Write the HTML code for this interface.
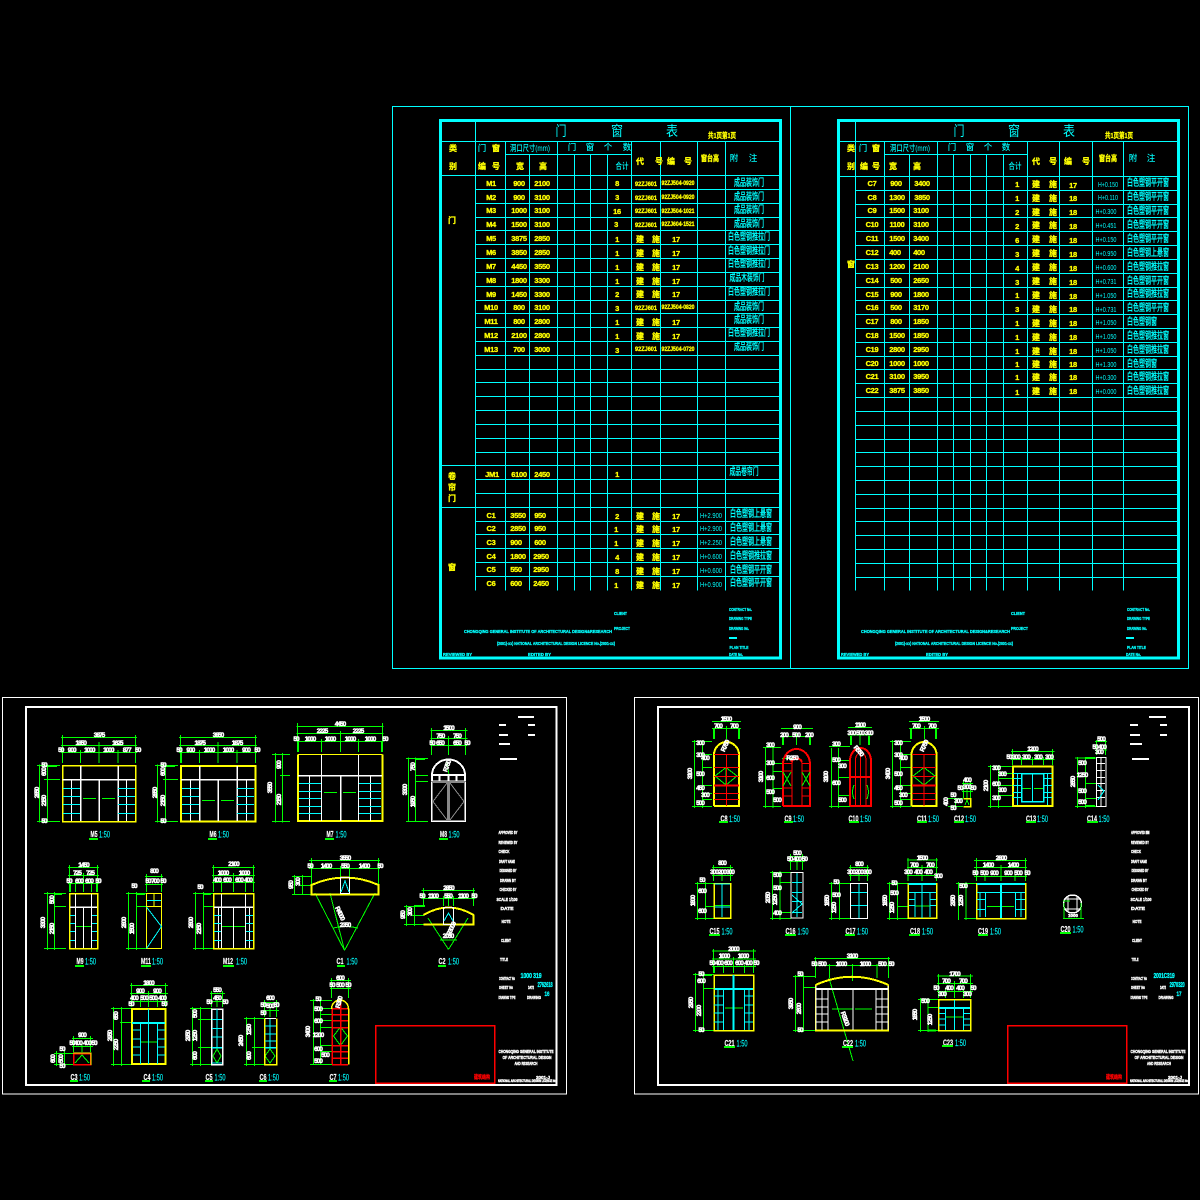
<!DOCTYPE html>
<html lang="zh">
<head>
<meta charset="utf-8">
<title>门窗表</title>
<style>
html,body{margin:0;padding:0;background:#000;}
svg{display:block;}
path,rect,circle{fill:none;stroke-width:1;}
.g{stroke:#0f0}.y{stroke:#ff0}.c{stroke:#0ff}.w{stroke:#fff}.r{stroke:#f00}.e{stroke:#888}
.s2{stroke-width:2}.s3{stroke-width:3}.s15{stroke-width:1.5}
text{text-anchor:middle;}
.ta{fill:#ff0;stroke:#ff0;stroke-width:.3;letter-spacing:-.3px;font:bold 7.5px "Liberation Sans",sans-serif;}
.tb{fill:#ff0;stroke:#ff0;stroke-width:.3;font:bold 6px "Liberation Sans",sans-serif;}
.th{fill:#ff0;stroke:#ff0;stroke-width:.3;font:700 8px "Liberation Sans","Noto Sans CJK SC",sans-serif;}
.tk{fill:#0ff;font:500 8.5px "Liberation Sans","Noto Sans CJK SC",sans-serif;}
.tn{fill:#0ff;stroke:#0ff;stroke-width:.2;font:500 10px "Liberation Sans","Noto Sans CJK SC",sans-serif;}
.tt{fill:#0ff;font:400 14px "Liberation Sans","Noto Sans CJK SC",sans-serif;}
.tc{fill:#0ff;font:400 7.5px "Liberation Sans",sans-serif;}
.tf{fill:#0ff;stroke:#0ff;stroke-width:.3;font:bold 4.2px "Liberation Sans",sans-serif;}
.tw{fill:#fff;stroke:#fff;stroke-width:.4;font:bold 4.5px "Liberation Sans",sans-serif;}
.td{fill:#fff;stroke:#fff;stroke-width:.5;letter-spacing:-1px;font:bold 6.5px "Liberation Sans",sans-serif;}
.tl{fill:#fff;stroke:#fff;stroke-width:.2;font:bold 8.5px "Liberation Sans",sans-serif;}
.ts{fill:#0ff;stroke:#0ff;stroke-width:.15;font:400 9.5px "Liberation Sans",sans-serif;}
.tr{fill:#f00;stroke:#f00;stroke-width:.3;font:700 5.5px "Liberation Sans","Noto Sans CJK SC",sans-serif;}
</style>
</head>
<body>
<svg xmlns="http://www.w3.org/2000/svg" width="1200" height="1200" viewBox="0 0 1200 1200" shape-rendering="crispEdges">
<rect x="0" y="0" width="1200" height="1200" style="fill:#000;stroke:none"/>

<!-- outer frame top -->
<path class="c" d="M392.5 106.5H1188.5V668.5H392.5ZM790.5 106.5V668.5"/>

<!-- LEFT TABLE -->
<rect class="c s3" x="440.5" y="120.5" width="340" height="537.5"/>
<path class="c" d="M475.5 120V590.7M505.5 141V590.7M529.5 154V590.7M557.5 141V590.7M574.5 154V590.7M590.5 154V590.7M607.5 154V590.7M631.5 141V590.7M660.5 141V590.7M697.5 141V590.7M725.5 141V590.7
M440 141.5H780M505 154.5H631M440 175.5H780M475 189.5H780M475 203.5H780M475 217.5H780M475 230.5H780M475 244.5H780M475 258.5H780M475 272.5H780M475 286.5H780M475 300.5H780M475 313.5H780M475 327.5H780M475 341.5H780M475 355.5H780M475 369.5H780M475 382.5H780M475 396.5H780M475 410.5H780M475 424.5H780M475 438.5H780M475 452.5H780M440 465.5H780M475 479.5H780M475 493.5H780M440 507.5H780M475 521.5H780M475 534.5H780M475 548.5H780M475 562.5H780M475 576.5H780"/>

<text class="tt" x="561" y="136" textLength="11" lengthAdjust="spacingAndGlyphs">门</text><text class="tt" x="617" y="136" textLength="12" lengthAdjust="spacingAndGlyphs">窗</text><text class="tt" x="672" y="136" textLength="12" lengthAdjust="spacingAndGlyphs">表</text>
<text class="th" style="font-size:7.5px" x="722" y="138" textLength="28" lengthAdjust="spacingAndGlyphs">共1页第1页</text>
<text class="th" x="453" y="151">类</text><text class="th" x="453" y="169">别</text>
<text class="tk" x="482" y="151">门</text><text class="th" x="496" y="151">窗</text><text class="th" x="482" y="169">编</text><text class="th" x="496" y="169">号</text>
<text class="tk" x="530" y="151" textLength="40" lengthAdjust="spacingAndGlyphs">洞口尺寸(mm)</text>
<text class="tk" x="572" y="150">门</text><text class="tk" x="590" y="150">窗</text><text class="tk" x="608" y="150">个</text><text class="tk" x="627" y="150">数</text>
<text class="th" x="520" y="169">宽</text><text class="th" x="543" y="169">高</text>
<text class="tk" x="622" y="169" textLength="13" lengthAdjust="spacingAndGlyphs">合计</text>
<text class="th" x="640" y="164">代</text><text class="th" x="659" y="164">号</text><text class="th" x="671" y="164">编</text><text class="th" x="688" y="164">号</text>
<text class="th" x="710" y="161" textLength="18" lengthAdjust="spacingAndGlyphs">窗台高</text>
<text class="tk" x="734" y="161">附</text><text class="tk" x="753" y="161">注</text>
<text class="th" x="452" y="223">门</text>
<text class="th" x="452" y="479">卷</text><text class="th" x="452" y="490">帘</text><text class="th" x="452" y="501">门</text>
<text class="th" x="452" y="570">窗</text>

<text class="ta" x="491" y="186">M1</text><text class="ta" x="519" y="186">900</text><text class="ta" x="542" y="186">2100</text><text class="ta" x="617" y="186">8</text><text class="tb" x="646" y="186" textLength="22" lengthAdjust="spacingAndGlyphs">92ZJ601</text><text class="tb" x="678" y="185" textLength="33" lengthAdjust="spacingAndGlyphs">92ZJ504-0920</text><text class="tn" x="749" y="186" textLength="30" lengthAdjust="spacingAndGlyphs">成品装饰门</text>
<text class="ta" x="491" y="200">M2</text><text class="ta" x="519" y="200">900</text><text class="ta" x="542" y="200">3100</text><text class="ta" x="617" y="200">3</text><text class="tb" x="646" y="200" textLength="22" lengthAdjust="spacingAndGlyphs">92ZJ601</text><text class="tb" x="678" y="199" textLength="33" lengthAdjust="spacingAndGlyphs">92ZJ504-0920</text><text class="tn" x="749" y="200" textLength="30" lengthAdjust="spacingAndGlyphs">成品装饰门</text>
<text class="ta" x="491" y="213">M3</text><text class="ta" x="519" y="213">1000</text><text class="ta" x="542" y="213">3100</text><text class="ta" x="617" y="214">16</text><text class="tb" x="646" y="213" textLength="22" lengthAdjust="spacingAndGlyphs">92ZJ601</text><text class="tb" x="678" y="213" textLength="33" lengthAdjust="spacingAndGlyphs">92ZJ504-1021</text><text class="tn" x="749" y="213" textLength="30" lengthAdjust="spacingAndGlyphs">成品装饰门</text>
<text class="ta" x="491" y="227">M4</text><text class="ta" x="519" y="227">1500</text><text class="ta" x="542" y="227">3100</text><text class="ta" x="616" y="227">3</text><text class="tb" x="646" y="227" textLength="22" lengthAdjust="spacingAndGlyphs">92ZJ601</text><text class="tb" x="678" y="226" textLength="33" lengthAdjust="spacingAndGlyphs">92ZJ604-1521</text><text class="tn" x="749" y="227" textLength="30" lengthAdjust="spacingAndGlyphs">成品装饰门</text>
<text class="ta" x="491" y="241">M5</text><text class="ta" x="519" y="241">3875</text><text class="ta" x="542" y="241">2850</text><text class="ta" x="617" y="242">1</text><text class="th" x="640" y="242">建</text><text class="th" x="656" y="242">施</text><text class="ta" x="676" y="242">17</text><text class="tn" x="749" y="240" textLength="42" lengthAdjust="spacingAndGlyphs">白色塑钢推拉门</text>
<text class="ta" x="491" y="255">M6</text><text class="ta" x="519" y="255">3850</text><text class="ta" x="542" y="255">2850</text><text class="ta" x="617" y="256">1</text><text class="th" x="640" y="256">建</text><text class="th" x="656" y="256">施</text><text class="ta" x="676" y="256">17</text><text class="tn" x="749" y="254" textLength="42" lengthAdjust="spacingAndGlyphs">白色塑钢推拉门</text>
<text class="ta" x="491" y="269">M7</text><text class="ta" x="519" y="269">4450</text><text class="ta" x="542" y="269">3550</text><text class="ta" x="617" y="270">1</text><text class="th" x="640" y="270">建</text><text class="th" x="656" y="270">施</text><text class="ta" x="676" y="270">17</text><text class="tn" x="749" y="267" textLength="42" lengthAdjust="spacingAndGlyphs">白色塑钢推拉门</text>
<text class="ta" x="491" y="283">M8</text><text class="ta" x="519" y="283">1800</text><text class="ta" x="542" y="283">3300</text><text class="ta" x="617" y="284">1</text><text class="th" x="640" y="284">建</text><text class="th" x="656" y="284">施</text><text class="ta" x="676" y="284">17</text><text class="tn" x="747" y="281" textLength="35" lengthAdjust="spacingAndGlyphs">成品木装饰门</text>
<text class="ta" x="491" y="297">M9</text><text class="ta" x="519" y="297">1450</text><text class="ta" x="542" y="297">3300</text><text class="ta" x="617" y="297">2</text><text class="th" x="640" y="297">建</text><text class="th" x="656" y="297">施</text><text class="ta" x="676" y="297">17</text><text class="tn" x="749" y="295" textLength="42" lengthAdjust="spacingAndGlyphs">白色塑钢推拉门</text>
<text class="ta" x="491" y="310">M10</text><text class="ta" x="519" y="310">800</text><text class="ta" x="542" y="310">3100</text><text class="ta" x="617" y="311">3</text><text class="tb" x="646" y="310" textLength="22" lengthAdjust="spacingAndGlyphs">92ZJ601</text><text class="tb" x="678" y="309" textLength="33" lengthAdjust="spacingAndGlyphs">92ZJ504-0820</text><text class="tn" x="749" y="310" textLength="30" lengthAdjust="spacingAndGlyphs">成品装饰门</text>
<text class="ta" x="491" y="324">M11</text><text class="ta" x="519" y="324">800</text><text class="ta" x="542" y="324">2800</text><text class="ta" x="617" y="325">1</text><text class="th" x="640" y="325">建</text><text class="th" x="656" y="325">施</text><text class="ta" x="676" y="325">17</text><text class="tn" x="749" y="323" textLength="30" lengthAdjust="spacingAndGlyphs">成品装饰门</text>
<text class="ta" x="491" y="338">M12</text><text class="ta" x="519" y="338">2100</text><text class="ta" x="542" y="338">2800</text><text class="ta" x="617" y="339">1</text><text class="th" x="640" y="339">建</text><text class="th" x="656" y="339">施</text><text class="ta" x="676" y="339">17</text><text class="tn" x="749" y="336" textLength="42" lengthAdjust="spacingAndGlyphs">白色塑钢推拉门</text>
<text class="ta" x="491" y="352">M13</text><text class="ta" x="519" y="352">700</text><text class="ta" x="542" y="352">3000</text><text class="ta" x="617" y="353">3</text><text class="tb" x="646" y="351" textLength="22" lengthAdjust="spacingAndGlyphs">92ZJ601</text><text class="tb" x="678" y="351" textLength="33" lengthAdjust="spacingAndGlyphs">92ZJ504-0720</text><text class="tn" x="749" y="350" textLength="30" lengthAdjust="spacingAndGlyphs">成品装饰门</text>

<text class="ta" x="492" y="477">JM1</text><text class="ta" x="519" y="477">6100</text><text class="ta" x="542" y="477">2450</text><text class="ta" x="617" y="477">1</text><text class="tn" x="744" y="475" textLength="29" lengthAdjust="spacingAndGlyphs">成品卷帘门</text>

<text class="ta" x="491" y="518">C1</text><text class="ta" x="518" y="518">3550</text><text class="ta" x="540" y="518">950</text><text class="ta" x="617" y="519">2</text><text class="th" x="640" y="519">建</text><text class="th" x="656" y="519">施</text><text class="ta" x="676" y="519">17</text><text class="tc" x="711" y="518" textLength="22" lengthAdjust="spacingAndGlyphs">H+2.900</text><text class="tn" x="751" y="517" textLength="42" lengthAdjust="spacingAndGlyphs">白色塑钢上悬窗</text>
<text class="ta" x="491" y="531">C2</text><text class="ta" x="518" y="531">2850</text><text class="ta" x="540" y="531">950</text><text class="ta" x="616" y="532">1</text><text class="th" x="640" y="532">建</text><text class="th" x="656" y="532">施</text><text class="ta" x="676" y="532">17</text><text class="tc" x="711" y="531" textLength="22" lengthAdjust="spacingAndGlyphs">H+2.900</text><text class="tn" x="751" y="531" textLength="42" lengthAdjust="spacingAndGlyphs">白色塑钢上悬窗</text>
<text class="ta" x="491" y="545">C3</text><text class="ta" x="516" y="545">900</text><text class="ta" x="540" y="545">600</text><text class="ta" x="616" y="546">1</text><text class="th" x="640" y="546">建</text><text class="th" x="656" y="546">施</text><text class="ta" x="676" y="546">17</text><text class="tc" x="711" y="545" textLength="22" lengthAdjust="spacingAndGlyphs">H+2.250</text><text class="tn" x="751" y="545" textLength="42" lengthAdjust="spacingAndGlyphs">白色塑钢上悬窗</text>
<text class="ta" x="491" y="559">C4</text><text class="ta" x="518" y="559">1800</text><text class="ta" x="541" y="559">2950</text><text class="ta" x="617" y="560">4</text><text class="th" x="640" y="560">建</text><text class="th" x="656" y="560">施</text><text class="ta" x="676" y="560">17</text><text class="tc" x="711" y="559" textLength="22" lengthAdjust="spacingAndGlyphs">H+0.600</text><text class="tn" x="751" y="559" textLength="42" lengthAdjust="spacingAndGlyphs">白色塑钢推拉窗</text>
<text class="ta" x="491" y="572">C5</text><text class="ta" x="516" y="572">550</text><text class="ta" x="541" y="572">2950</text><text class="ta" x="617" y="574">8</text><text class="th" x="640" y="574">建</text><text class="th" x="656" y="574">施</text><text class="ta" x="676" y="574">17</text><text class="tc" x="711" y="573" textLength="22" lengthAdjust="spacingAndGlyphs">H+0.600</text><text class="tn" x="751" y="573" textLength="42" lengthAdjust="spacingAndGlyphs">白色塑钢平开窗</text>
<text class="ta" x="491" y="586">C6</text><text class="ta" x="516" y="586">600</text><text class="ta" x="541" y="586">2450</text><text class="ta" x="616" y="588">1</text><text class="th" x="640" y="588">建</text><text class="th" x="656" y="588">施</text><text class="ta" x="676" y="588">17</text><text class="tc" x="711" y="587" textLength="22" lengthAdjust="spacingAndGlyphs">H+0.900</text><text class="tn" x="751" y="586" textLength="42" lengthAdjust="spacingAndGlyphs">白色塑钢平开窗</text>

<text class="tf" x="538" y="633" textLength="148" lengthAdjust="spacingAndGlyphs">CHONGQING GENERAL INSTITUTE OF ARCHITECTURAL DESIGN&amp;RESEARCH</text>
<text class="tf" x="556" y="645" textLength="118" lengthAdjust="spacingAndGlyphs">(2001)-xx) NATIONAL ARCHITECTURAL DESIGN LICENCE No.(2001-xx)</text>
<text class="tf" x="457.5" y="656" textLength="29" lengthAdjust="spacingAndGlyphs">REVIEWED BY</text>
<text class="tf" x="539.5" y="656" textLength="23" lengthAdjust="spacingAndGlyphs">EDITED BY</text>
<text class="tf" x="620.5" y="615" textLength="13" lengthAdjust="spacingAndGlyphs">CLIENT</text>
<text class="tf" x="622" y="630" textLength="16" lengthAdjust="spacingAndGlyphs">PROJECT</text>
<text class="tf" x="740.5" y="611" textLength="23" lengthAdjust="spacingAndGlyphs">CONTRACT No.</text>
<text class="tf" x="740.5" y="620" textLength="23" lengthAdjust="spacingAndGlyphs">DRAWING TYPE</text>
<text class="tf" x="739" y="630" textLength="20" lengthAdjust="spacingAndGlyphs">DRAWING No.</text>
<path class="c s2" d="M729 638H737"/>
<text class="tf" x="739" y="649" textLength="19" lengthAdjust="spacingAndGlyphs">PLAN TITLE</text>
<text class="tf" x="736" y="656" textLength="14" lengthAdjust="spacingAndGlyphs">DATE No.</text>

<!-- RIGHT TABLE -->
<rect class="c s3" x="838.5" y="120.5" width="340" height="537.5"/>
<path class="c" d="M855.5 120V590.7M884.5 141V590.7M909.5 154V590.7M937.5 141V590.7M953.5 154V590.7M970.5 154V590.7M986.5 154V590.7M1003.5 154V590.7M1027.5 141V590.7M1059.5 141V590.7M1092.5 141V590.7M1123.5 141V590.7
M838 141.5H1178M884 154.5H1027M838 176.5H1178M855 190.5H1178M855 204.5H1178M855 217.5H1178M855 231.5H1178M855 245.5H1178M855 259.5H1178M855 273.5H1178M855 287.5H1178M855 300.5H1178M855 314.5H1178M855 328.5H1178M855 342.5H1178M855 356.5H1178M855 369.5H1178M855 383.5H1178M855 397.5H1178M855 411.5H1178M855 425.5H1178M855 439.5H1178M855 452.5H1178M855 466.5H1178M855 480.5H1178M855 494.5H1178M855 508.5H1178M855 521.5H1178M855 535.5H1178M855 549.5H1178M855 563.5H1178M855 577.5H1178"/>

<text class="tt" x="959" y="136" textLength="11" lengthAdjust="spacingAndGlyphs">门</text><text class="tt" x="1014" y="136" textLength="12" lengthAdjust="spacingAndGlyphs">窗</text><text class="tt" x="1069" y="136" textLength="12" lengthAdjust="spacingAndGlyphs">表</text>
<text class="th" style="font-size:7.5px" x="1119" y="138" textLength="28" lengthAdjust="spacingAndGlyphs">共1页第1页</text>
<text class="th" x="851" y="151">类</text><text class="th" x="851" y="169">别</text>
<text class="tk" x="863" y="151">门</text><text class="th" x="876" y="151">窗</text><text class="th" x="864" y="169">编</text><text class="th" x="876" y="169">号</text>
<text class="tk" x="910" y="151" textLength="40" lengthAdjust="spacingAndGlyphs">洞口尺寸(mm)</text>
<text class="tk" x="952" y="150">门</text><text class="tk" x="970" y="150">窗</text><text class="tk" x="988" y="150">个</text><text class="tk" x="1006" y="150">数</text>
<text class="th" x="893" y="169">宽</text><text class="th" x="917" y="169">高</text>
<text class="tk" x="1015" y="169" textLength="13" lengthAdjust="spacingAndGlyphs">合计</text>
<text class="th" x="1036" y="164">代</text><text class="th" x="1053" y="164">号</text><text class="th" x="1068" y="164">编</text><text class="th" x="1086" y="164">号</text>
<text class="th" x="1108" y="161" textLength="18" lengthAdjust="spacingAndGlyphs">窗台高</text>
<text class="tk" x="1133" y="161">附</text><text class="tk" x="1151" y="161">注</text>
<text class="th" x="851" y="267">窗</text>

<text class="ta" x="872" y="186">C7</text><text class="ta" x="896" y="186">900</text><text class="ta" x="922" y="186">3400</text><text class="ta" x="1017" y="187">1</text><text class="th" x="1036" y="187">建</text><text class="th" x="1053" y="187">施</text><text class="ta" x="1073" y="188">17</text><text class="tc" x="1108" y="187" textLength="20" lengthAdjust="spacingAndGlyphs">H+0.150</text><text class="tn" x="1148" y="186" textLength="42" lengthAdjust="spacingAndGlyphs">白色塑钢平开窗</text>
<text class="ta" x="872" y="200">C8</text><text class="ta" x="897" y="200">1300</text><text class="ta" x="922" y="200">3850</text><text class="ta" x="1017" y="201">1</text><text class="th" x="1036" y="201">建</text><text class="th" x="1053" y="201">施</text><text class="ta" x="1073" y="201">18</text><text class="tc" x="1108" y="200" textLength="20" lengthAdjust="spacingAndGlyphs">H+0.110</text><text class="tn" x="1148" y="200" textLength="42" lengthAdjust="spacingAndGlyphs">白色塑钢平开窗</text>
<text class="ta" x="872" y="213">C9</text><text class="ta" x="897" y="213">1500</text><text class="ta" x="921" y="213">3100</text><text class="ta" x="1017" y="215">2</text><text class="th" x="1036" y="215">建</text><text class="th" x="1053" y="215">施</text><text class="ta" x="1073" y="215">18</text><text class="tc" x="1106" y="214" textLength="21" lengthAdjust="spacingAndGlyphs">H+0.300</text><text class="tn" x="1148" y="214" textLength="42" lengthAdjust="spacingAndGlyphs">白色塑钢平开窗</text>
<text class="ta" x="872" y="227">C10</text><text class="ta" x="897" y="227">1100</text><text class="ta" x="921" y="227">3100</text><text class="ta" x="1017" y="229">2</text><text class="th" x="1036" y="228">建</text><text class="th" x="1053" y="228">施</text><text class="ta" x="1073" y="229">18</text><text class="tc" x="1106" y="228" textLength="21" lengthAdjust="spacingAndGlyphs">H+0.451</text><text class="tn" x="1148" y="228" textLength="42" lengthAdjust="spacingAndGlyphs">白色塑钢平开窗</text>
<text class="ta" x="872" y="241">C11</text><text class="ta" x="897" y="241">1500</text><text class="ta" x="921" y="241">3400</text><text class="ta" x="1017" y="243">6</text><text class="th" x="1036" y="242">建</text><text class="th" x="1053" y="242">施</text><text class="ta" x="1073" y="243">18</text><text class="tc" x="1106" y="242" textLength="21" lengthAdjust="spacingAndGlyphs">H+0.150</text><text class="tn" x="1148" y="242" textLength="42" lengthAdjust="spacingAndGlyphs">白色塑钢平开窗</text>
<text class="ta" x="872" y="255">C12</text><text class="ta" x="895" y="255">400</text><text class="ta" x="919" y="255">400</text><text class="ta" x="1017" y="257">3</text><text class="th" x="1036" y="256">建</text><text class="th" x="1053" y="256">施</text><text class="ta" x="1073" y="257">18</text><text class="tc" x="1106" y="256" textLength="21" lengthAdjust="spacingAndGlyphs">H+0.950</text><text class="tn" x="1148" y="256" textLength="42" lengthAdjust="spacingAndGlyphs">白色塑钢上悬窗</text>
<text class="ta" x="872" y="269">C13</text><text class="ta" x="897" y="269">1200</text><text class="ta" x="921" y="269">2100</text><text class="ta" x="1017" y="271">4</text><text class="th" x="1036" y="270">建</text><text class="th" x="1053" y="270">施</text><text class="ta" x="1073" y="271">18</text><text class="tc" x="1106" y="270" textLength="21" lengthAdjust="spacingAndGlyphs">H+0.600</text><text class="tn" x="1148" y="270" textLength="42" lengthAdjust="spacingAndGlyphs">白色塑钢推拉窗</text>
<text class="ta" x="872" y="283">C14</text><text class="ta" x="896" y="283">500</text><text class="ta" x="921" y="283">2650</text><text class="ta" x="1017" y="285">3</text><text class="th" x="1036" y="284">建</text><text class="th" x="1053" y="284">施</text><text class="ta" x="1073" y="285">18</text><text class="tc" x="1106" y="284" textLength="21" lengthAdjust="spacingAndGlyphs">H+0.731</text><text class="tn" x="1148" y="284" textLength="42" lengthAdjust="spacingAndGlyphs">白色塑钢平开窗</text>
<text class="ta" x="872" y="297">C15</text><text class="ta" x="896" y="297">900</text><text class="ta" x="921" y="297">1800</text><text class="ta" x="1017" y="298">1</text><text class="th" x="1036" y="298">建</text><text class="th" x="1053" y="298">施</text><text class="ta" x="1073" y="299">18</text><text class="tc" x="1106" y="298" textLength="21" lengthAdjust="spacingAndGlyphs">H+1.050</text><text class="tn" x="1148" y="297" textLength="42" lengthAdjust="spacingAndGlyphs">白色塑钢推拉窗</text>
<text class="ta" x="872" y="310">C16</text><text class="ta" x="896" y="310">500</text><text class="ta" x="921" y="310">3170</text><text class="ta" x="1017" y="312">3</text><text class="th" x="1036" y="312">建</text><text class="th" x="1053" y="312">施</text><text class="ta" x="1073" y="312">18</text><text class="tc" x="1106" y="312" textLength="21" lengthAdjust="spacingAndGlyphs">H+0.731</text><text class="tn" x="1148" y="311" textLength="42" lengthAdjust="spacingAndGlyphs">白色塑钢平开窗</text>
<text class="ta" x="872" y="324">C17</text><text class="ta" x="896" y="324">800</text><text class="ta" x="921" y="324">1850</text><text class="ta" x="1017" y="326">1</text><text class="th" x="1036" y="326">建</text><text class="th" x="1053" y="326">施</text><text class="ta" x="1073" y="326">18</text><text class="tc" x="1106" y="325" textLength="21" lengthAdjust="spacingAndGlyphs">H+1.050</text><text class="tn" x="1142" y="325" textLength="30" lengthAdjust="spacingAndGlyphs">白色塑钢窗</text>
<text class="ta" x="872" y="338">C18</text><text class="ta" x="897" y="338">1500</text><text class="ta" x="921" y="338">1850</text><text class="ta" x="1017" y="340">1</text><text class="th" x="1036" y="340">建</text><text class="th" x="1053" y="340">施</text><text class="ta" x="1073" y="340">18</text><text class="tc" x="1106" y="339" textLength="21" lengthAdjust="spacingAndGlyphs">H+1.050</text><text class="tn" x="1148" y="339" textLength="42" lengthAdjust="spacingAndGlyphs">白色塑钢推拉窗</text>
<text class="ta" x="872" y="352">C19</text><text class="ta" x="897" y="352">2800</text><text class="ta" x="921" y="352">2950</text><text class="ta" x="1017" y="354">1</text><text class="th" x="1036" y="354">建</text><text class="th" x="1053" y="354">施</text><text class="ta" x="1073" y="354">18</text><text class="tc" x="1106" y="353" textLength="21" lengthAdjust="spacingAndGlyphs">H+1.050</text><text class="tn" x="1148" y="353" textLength="42" lengthAdjust="spacingAndGlyphs">白色塑钢推拉窗</text>
<text class="ta" x="872" y="366">C20</text><text class="ta" x="897" y="366">1000</text><text class="ta" x="921" y="366">1000</text><text class="ta" x="1017" y="367">1</text><text class="th" x="1036" y="367">建</text><text class="th" x="1053" y="367">施</text><text class="ta" x="1073" y="367">18</text><text class="tc" x="1106" y="367" textLength="21" lengthAdjust="spacingAndGlyphs">H+1.300</text><text class="tn" x="1142" y="367" textLength="30" lengthAdjust="spacingAndGlyphs">白色塑钢窗</text>
<text class="ta" x="872" y="379">C21</text><text class="ta" x="897" y="379">3100</text><text class="ta" x="921" y="379">3950</text><text class="ta" x="1017" y="380">1</text><text class="th" x="1036" y="380">建</text><text class="th" x="1053" y="380">施</text><text class="ta" x="1073" y="380">18</text><text class="tc" x="1106" y="380" textLength="21" lengthAdjust="spacingAndGlyphs">H+0.300</text><text class="tn" x="1148" y="380" textLength="42" lengthAdjust="spacingAndGlyphs">白色塑钢推拉窗</text>
<text class="ta" x="872" y="393">C22</text><text class="ta" x="897" y="393">3875</text><text class="ta" x="921" y="393">3850</text><text class="ta" x="1017" y="395">1</text><text class="th" x="1036" y="394">建</text><text class="th" x="1053" y="394">施</text><text class="ta" x="1073" y="394">18</text><text class="tc" x="1106" y="394" textLength="21" lengthAdjust="spacingAndGlyphs">H+0.000</text><text class="tn" x="1148" y="394" textLength="42" lengthAdjust="spacingAndGlyphs">白色塑钢推拉窗</text>

<text class="tf" x="935.5" y="633" textLength="149" lengthAdjust="spacingAndGlyphs">CHONGQING GENERAL INSTITUTE OF ARCHITECTURAL DESIGN&amp;RESEARCH</text>
<text class="tf" x="954" y="645" textLength="118" lengthAdjust="spacingAndGlyphs">(2001)-xx) NATIONAL ARCHITECTURAL DESIGN LICENCE No.(2001-xx)</text>
<text class="tf" x="855" y="656" textLength="28" lengthAdjust="spacingAndGlyphs">REVIEWED BY</text>
<text class="tf" x="937" y="656" textLength="22" lengthAdjust="spacingAndGlyphs">EDITED BY</text>
<text class="tf" x="1018" y="615" textLength="14" lengthAdjust="spacingAndGlyphs">CLIENT</text>
<text class="tf" x="1019.5" y="630" textLength="17" lengthAdjust="spacingAndGlyphs">PROJECT</text>
<text class="tf" x="1138.5" y="611" textLength="23" lengthAdjust="spacingAndGlyphs">CONTRACT No.</text>
<text class="tf" x="1138.5" y="620" textLength="23" lengthAdjust="spacingAndGlyphs">DRAWING TYPE</text>
<text class="tf" x="1137" y="630" textLength="20" lengthAdjust="spacingAndGlyphs">DRAWING No.</text>
<path class="c s2" d="M1126 638H1134"/>
<text class="tf" x="1136.5" y="649" textLength="19" lengthAdjust="spacingAndGlyphs">PLAN TITLE</text>
<text class="tf" x="1133.5" y="656" textLength="15" lengthAdjust="spacingAndGlyphs">DATE No.</text>

<!-- BOTTOM-LEFT SHEET -->
<rect class="w" x="2.5" y="697.5" width="564" height="396.5"/>
<rect class="w s2" x="26" y="707" width="530.5" height="378"/>
<rect class="r s15" x="375.5" y="1025.5" width="119" height="57.5"/>
<text class="tr" x="482" y="1079" textLength="16" lengthAdjust="spacingAndGlyphs">建筑结构</text>

<!-- title block left -->
<path class="w s2" d="M518 717H534M499 725H506M528 725H535M499 735H508M528 735H535M499 744H510M500 759H517"/>
<text class="tw" x="508" y="834" textLength="19" lengthAdjust="spacingAndGlyphs">APPROVED BY</text>
<text class="tw" x="508" y="844" textLength="19" lengthAdjust="spacingAndGlyphs">REVIEWED BY</text>
<text class="tw" x="504" y="853" textLength="11" lengthAdjust="spacingAndGlyphs">CHECK</text>
<text class="tw" x="507" y="863" textLength="16" lengthAdjust="spacingAndGlyphs">DRAFT NAME</text>
<text class="tw" x="508" y="872" textLength="17" lengthAdjust="spacingAndGlyphs">DESIGNED BY</text>
<text class="tw" x="508" y="882" textLength="16" lengthAdjust="spacingAndGlyphs">DRAWN BY</text>
<text class="tw" x="508" y="891" textLength="17" lengthAdjust="spacingAndGlyphs">CHECKED BY</text>
<text class="tw" x="507" y="901" textLength="21" lengthAdjust="spacingAndGlyphs">SCALE 1/100</text>
<text class="tw" x="507" y="910" textLength="13" lengthAdjust="spacingAndGlyphs">DATE</text>
<text class="tw" x="506" y="923" textLength="9" lengthAdjust="spacingAndGlyphs">NOTE</text>
<text class="tw" x="506" y="942" textLength="10" lengthAdjust="spacingAndGlyphs">CLIENT</text>
<text class="tw" x="504" y="961" textLength="8" lengthAdjust="spacingAndGlyphs">TITLE</text>
<text class="tw" x="507" y="980" textLength="16" lengthAdjust="spacingAndGlyphs">CONTRACT No</text>
<text class="ta" style="fill:#0ff;stroke:#0ff" x="531" y="978" textLength="21" lengthAdjust="spacingAndGlyphs">1000 319</text>
<text class="tw" x="506" y="989" textLength="14" lengthAdjust="spacingAndGlyphs">SHEET No</text>
<text class="tw" x="531" y="989" textLength="6" lengthAdjust="spacingAndGlyphs">DATE</text>
<text class="ta" style="fill:#0ff;stroke:#0ff" x="545" y="987" textLength="15" lengthAdjust="spacingAndGlyphs">2762618</text>
<text class="tb" style="fill:#0ff;stroke:#0ff" x="547" y="996" textLength="5" lengthAdjust="spacingAndGlyphs">16</text>
<text class="tw" x="507" y="999" textLength="17" lengthAdjust="spacingAndGlyphs">DRAWING TYPE</text>
<text class="tw" x="534" y="999" textLength="14" lengthAdjust="spacingAndGlyphs">DRAWING</text>
<text class="tw" x="526" y="1053" textLength="55" lengthAdjust="spacingAndGlyphs">CHONGQING GENERAL INSTITUTE</text>
<text class="tw" x="527" y="1059" textLength="49" lengthAdjust="spacingAndGlyphs">OF ARCHITECTURAL DESIGN</text>
<text class="tw" x="526" y="1065" textLength="23" lengthAdjust="spacingAndGlyphs">AND RESEARCH</text>
<text class="tw" x="543" y="1079" textLength="14" lengthAdjust="spacingAndGlyphs">2001-J</text>
<text class="tw" style="font-size:3.5px" x="527" y="1082" textLength="58" lengthAdjust="spacingAndGlyphs">NATIONAL ARCHITECTURAL DESIGN LICENCE No</text>

<!-- M5 -->
<path class="g" d="M61 737.5H137M61 745.5H137M61 752.5H137M62.5 735V763M135.5 735V763M99 742V763M80.5 750V763M118 750V763M39.5 764.5V822.5M47.5 764.5V822.5M37 765.5H60M44 779.5H60M37 821.5H60M83 798.5H96M102 798.5H115"/>
<path class="g s2" d="M47 766H57"/>
<rect class="y s15" x="62.5" y="765.5" width="73" height="56"/>
<path class="w s15" d="M62.5 779.5H135.5M80.5 766V821M118 766V821M99 780V821"/>
<path class="w" d="M71.5 780V821M126.5 780V821"/>
<path class="c" d="M63 788.5H80M63 796.5H80M63 804.5H80M63 813.5H80M118 788.5H135M118 796.5H135M118 804.5H135M118 813.5H135"/>
<text class="td" x="99" y="737">3875</text><text class="td" x="80.7" y="745">1850</text><text class="td" x="117.3" y="745">1625</text>
<text class="td" x="60.7" y="752">50</text><text class="td" x="71.7" y="752">900</text><text class="td" x="89.3" y="752">1000</text><text class="td" x="108.3" y="752">1000</text><text class="td" x="126.7" y="752">877</text><text class="td" x="137.7" y="752">50</text>
<text class="td" transform="rotate(-90 39 793)" x="39" y="793">2850</text><text class="td" transform="rotate(-90 46 772)" x="46" y="772">600</text><text class="td" transform="rotate(-90 46 801)" x="46" y="801">2150</text><text class="td" x="44" y="767">50</text><text class="td" x="44" y="823">50</text>
<text class="tl" x="94" y="837" textLength="7" lengthAdjust="spacingAndGlyphs">M5</text><text class="ts" x="104.5" y="837.5" textLength="11" lengthAdjust="spacingAndGlyphs">1:50</text><path class="g s2" d="M89 839H98"/>

<!-- M6 -->
<path class="g" d="M179 737.5H257M179 745.5H257M179 752.5H257M180.5 735V763M255.5 735V763M218 742V763M199.5 750V763M237 750V763M157.5 764.5V822.5M165.5 764.5V822.5M155 765.5H178M163 779.5H178M155 821.5H178M202 800.5H215M221 800.5H234"/>
<path class="g s2" d="M164 766H175M181 753V763"/>
<rect class="y s2" x="181" y="766" width="74.5" height="55.5"/>
<path class="w s15" d="M181 779.5H255M199.5 766V821M237 766V821M218 780V821"/>
<path class="w" d="M190.5 780V821M246.5 780V821"/>
<path class="c" d="M182 788.5H199M182 796.5H199M182 804.5H199M182 813.5H199M237 788.5H254M237 796.5H254M237 804.5H254M237 813.5H254"/>
<text class="td" x="218" y="737">3850</text><text class="td" x="199.7" y="745">1875</text><text class="td" x="237" y="745">1875</text>
<text class="td" x="179" y="752">50</text><text class="td" x="190.3" y="752">900</text><text class="td" x="209" y="752">1000</text><text class="td" x="228" y="752">1000</text><text class="td" x="246" y="752">900</text><text class="td" x="257" y="752">50</text>
<text class="td" transform="rotate(-90 157 793)" x="157" y="793">2850</text><text class="td" transform="rotate(-90 165 772)" x="165" y="772">600</text><text class="td" transform="rotate(-90 165 801)" x="165" y="801">2150</text><text class="td" x="163" y="767">50</text><text class="td" x="163" y="823">50</text>
<text class="tl" x="213" y="837" textLength="7" lengthAdjust="spacingAndGlyphs">M6</text><text class="ts" x="223.5" y="837.5" textLength="11" lengthAdjust="spacingAndGlyphs">1:50</text><path class="g s2" d="M208 839H217"/>

<!-- M7 -->
<path class="g" d="M296.5 726.5H383.5M296.5 733.5H383.5M296.5 741.5H383.5M297.5 723V752M382.5 723V752M340.5 731V752M321.5 739V752M358.5 739V752M275.5 753V822.5M282.5 753V822.5M272 754.5H290M280 775.5H290M272 821.5H290M324 792.5H337M343 792.5H356"/>
<path class="g s2" d="M298 742V752M382 742V752"/>
<path class="y s2" d="M298 754.5V821H382.5V754.5"/><path class="y" d="M298 754.5H382.5"/>
<path class="w s15" d="M298 775.5H382M340.5 776V821"/>
<path class="w" d="M321.5 755V821M358.5 755V821M309.5 776V821M370.5 776V821"/>
<path class="c" d="M299 783.5H321M299 791.5H321M299 798.5H321M299 806.5H321M299 813.5H321M359 783.5H381M359 791.5H381M359 798.5H381M359 806.5H381M359 813.5H381"/>
<text class="td" x="340" y="726">4450</text><text class="td" x="322" y="733">2225</text><text class="td" x="358" y="733">2225</text>
<text class="td" x="296" y="741">50</text><text class="td" x="310" y="741">1000</text><text class="td" x="330" y="741">1000</text><text class="td" x="350" y="741">1000</text><text class="td" x="370" y="741">1000</text><text class="td" x="385" y="741">50</text>
<text class="td" transform="rotate(-90 272 788)" x="272" y="788">3550</text><text class="td" transform="rotate(-90 281 765)" x="281" y="765">900</text><text class="td" transform="rotate(-90 281 800)" x="281" y="800">2150</text>
<text class="tl" x="330" y="837" textLength="7" lengthAdjust="spacingAndGlyphs">M7</text><text class="ts" x="341" y="837.5" textLength="11" lengthAdjust="spacingAndGlyphs">1:50</text><path class="g s2" d="M325 839H334"/>

<!-- M8 -->
<path class="g" d="M430.5 730.5H467.5M430.5 738.5H467.5M430.5 745.5H467.5M431.5 728V755M465.5 728V755M448.5 736V755M408.5 757.5V822M415.5 757.5V822M406 758.5H428M415 775.5H428M415 781.5H428M406 821.5H428M447 762L449 775"/>
<path class="g s2" d="M415 759H425"/>
<path class="w s2" d="M432 775A16.5 15.5 0 0 1 465 775M432 775H465M432 781.5H465M432 775V782M465 775V782M439.5 775V781M448.5 775V781M456.5 775V781"/>
<rect class="e s2" x="432" y="782" width="33" height="39"/>
<path class="e s3" d="M448.5 782V821"/>
<path class="e" d="M447 783L433 801.5L447 820M450 783L464 801.5L450 820"/>
<path class="w" d="M431.5 782V821.5H465.5V782"/>
<text class="td" x="448.5" y="730">1500</text><text class="td" x="440.3" y="738">750</text><text class="td" x="457" y="738">750</text>
<text class="td" x="432" y="745">50</text><text class="td" x="440" y="745">650</text><text class="td" x="457" y="745">650</text><text class="td" x="467" y="745">50</text>
<text class="td" transform="rotate(-90 407 790)" x="407" y="790">3300</text><text class="td" transform="rotate(-90 415 767)" x="415" y="767">750</text><text class="td" transform="rotate(-90 415 802)" x="415" y="802">1950</text><text class="td" transform="rotate(-70 449 767)" x="449" y="767">R750</text>
<text class="tl" x="443.5" y="837" textLength="7" lengthAdjust="spacingAndGlyphs">M8</text><text class="ts" x="454" y="837.5" textLength="11" lengthAdjust="spacingAndGlyphs">1:50</text><path class="g s2" d="M439 839H448"/>

<!-- M9 -->
<path class="g" d="M68 867.5H99M68 875.5H99M68 883.5H99M69.5 865V892M97.5 865V892M83.5 873V892M75.5 881V892M91.5 881V892M47.5 892V950M54.5 892V950M44 893.5H66M54 906.5H66M44 948.5H66M75 926.5H92"/>
<path class="g s2" d="M54 894H62M70 884V892M97 884V892"/>
<rect class="y s15" x="69.5" y="893.5" width="28" height="55"/>
<path class="w s15" d="M70 907H97"/>
<path class="w" d="M75.5 894V948M83.5 907V948M91.5 894V948"/>
<path class="c" d="M70 915.5H75M70 923.5H75M70 931.5H75M70 940.5H75M92 915.5H97M92 923.5H97M92 931.5H97M92 940.5H97"/>
<text class="td" x="83.5" y="867">1450</text><text class="td" x="77" y="875">725</text><text class="td" x="90" y="875">725</text>
<text class="td" x="69" y="883">50</text><text class="td" x="79" y="883">600</text><text class="td" x="89" y="883">600</text><text class="td" x="98" y="883">50</text>
<text class="td" transform="rotate(-90 45 923)" x="45" y="923">3300</text><text class="td" transform="rotate(-90 54 900)" x="54" y="900">500</text><text class="td" transform="rotate(-90 54 929)" x="54" y="929">2150</text>
<text class="tl" x="80" y="964" textLength="7" lengthAdjust="spacingAndGlyphs">M9</text><text class="ts" x="90.5" y="964.5" textLength="11" lengthAdjust="spacingAndGlyphs">1:50</text><path class="g s2" d="M75 966H84"/>

<!-- M11 -->
<path class="g" d="M145 876.5H163M145 884.5H163M146.5 874V892M161.5 874V892M128.5 892V950M136.5 892V950M126 893.5H146M136 906.5H146M126 948.5H146"/>
<path class="g s2" d="M136 894H145"/>
<rect class="y" x="146.5" y="893.5" width="15" height="55"/>
<path class="y" d="M147 906.5H161M154 894V906"/>
<path class="c" d="M147 900.5H161M146.5 907L161.5 926.5L146.5 948.5"/>
<text class="td" x="154" y="873">800</text><text class="td" x="148" y="883">50</text><text class="td" x="155" y="883">700</text><text class="td" x="163" y="883">50</text>
<text class="td" transform="rotate(-90 126 923)" x="126" y="923">2800</text><text class="td" transform="rotate(-90 134 929)" x="134" y="929">1500</text><text class="td" x="134" y="888">50</text>
<text class="tl" x="146" y="964" textLength="10" lengthAdjust="spacingAndGlyphs">M11</text><text class="ts" x="157.5" y="964.5" textLength="11" lengthAdjust="spacingAndGlyphs">1:50</text><path class="g s2" d="M141 966H151"/>

<!-- M12 -->
<path class="g" d="M212 867.5H255M212 875.5H255M212 882.5H255M213.5 865V892M253.5 865V892M233.5 873V892M221.5 881V892M245.5 881V892M195.5 892V950M203.5 892V950M193 893.5H213M203 906.5H213M193 948.5H213M222 926.5H245"/>
<path class="g s2" d="M203 894H211"/>
<rect class="y s15" x="213.5" y="893.5" width="40" height="55"/>
<path class="w s15" d="M214 907H253"/>
<path class="w" d="M221.5 894V948M233.5 907V948M245.5 894V948M218.5 907V948M249.5 907V948"/>
<path class="c" d="M214 915.5H221M214 923.5H221M214 931.5H221M214 940.5H221M246 915.5H253M246 923.5H253M246 931.5H253M246 940.5H253"/>
<text class="td" x="233.5" y="866">2100</text><text class="td" x="223" y="875">1000</text><text class="td" x="244" y="875">1000</text>
<text class="td" x="217" y="882">400</text><text class="td" x="227" y="882">600</text><text class="td" x="239" y="882">600</text><text class="td" x="248" y="882">400</text>
<text class="td" transform="rotate(-90 193 923)" x="193" y="923">2800</text><text class="td" transform="rotate(-90 201 929)" x="201" y="929">2150</text><text class="td" x="200" y="889">50</text>
<text class="tl" x="228" y="964" textLength="10" lengthAdjust="spacingAndGlyphs">M12</text><text class="ts" x="241.5" y="964.5" textLength="11" lengthAdjust="spacingAndGlyphs">1:50</text><path class="g s2" d="M223 966H234"/>

<!-- C1 -->
<path class="g" d="M309 860.5H380M309 868.5H380M311.5 858V884M378.5 858V884M340.5 866V884M349.5 866V884M294.5 875V895M302.5 875V895M292 876.5H312M300 885.5H312M292 894.5H312M315 893L344.5 950.5M375 893L344.5 950.5M330 893L344.5 950.5M333 928Q345 925 358 928"/>
<path class="y s2" d="M311.5 885Q345 870 378.5 885V894.5H311.5Z"/>
<rect class="w" x="340.5" y="877.5" width="9" height="16"/>
<path class="c" d="M341 892L345 881L349 892"/>
<text class="td" x="345" y="860">3550</text><text class="td" x="326" y="868">1400</text><text class="td" x="345" y="868">550</text><text class="td" x="364" y="868">1400</text><text class="td" x="310" y="868">50</text><text class="td" x="380" y="868">50</text>
<text class="td" transform="rotate(-90 293 885)" x="293" y="885">950</text><text class="td" transform="rotate(-90 300 882)" x="300" y="882">300</text><text class="td" transform="rotate(65 338 914)" x="338" y="914">R4000</text><text class="td" x="345" y="927">2350</text>
<text class="tl" x="340" y="964" textLength="7" lengthAdjust="spacingAndGlyphs">C1</text><text class="ts" x="352" y="964.5" textLength="11" lengthAdjust="spacingAndGlyphs">1:50</text><path class="g s2" d="M337 966H345"/>

<!-- C2 -->
<path class="g" d="M421.5 890.5H475M421.5 898.5H475M423.5 888V906M473.5 888V906M448.5 896V906M443.5 896V906M453.5 896V906M406.5 905V926M414.5 905V926M404 906.5H424M412 915.5H424M404 924.5H424M428 918L448.5 949.5M468 918L448.5 949.5M440 940H457"/>
<path class="g s2" d="M414 906H425"/>
<path class="y s2" d="M423.5 915Q448.5 900 473.5 915V924.5H423.5"/>
<rect class="w" x="443.5" y="907.5" width="10" height="17"/>
<path class="c" d="M444 921L448.5 913L453 921"/>
<text class="td" x="448.5" y="890">2850</text><text class="td" x="422" y="898">50</text><text class="td" x="433" y="898">1100</text><text class="td" x="448" y="898">550</text><text class="td" x="463" y="898">1100</text><text class="td" x="474" y="898">50</text>
<text class="td" transform="rotate(-90 405 915)" x="405" y="915">950</text><text class="td" transform="rotate(-90 412 912)" x="412" y="912">300</text><text class="td" transform="rotate(-65 453 930)" x="453" y="930">R3000</text><text class="td" x="448" y="938">2000</text>
<text class="tl" x="442" y="964" textLength="7" lengthAdjust="spacingAndGlyphs">C2</text><text class="ts" x="453.5" y="964.5" textLength="11" lengthAdjust="spacingAndGlyphs">1:50</text><path class="g s2" d="M438 966H446"/>

<!-- C3 -->
<path class="g" d="M72 1038.5H93M72 1046.5H93M73.5 1036V1052M90.5 1036V1052M82 1044V1052M56.5 1051V1066M64.5 1051V1066M54 1053.5H73M54 1064.5H73M75 1063L82 1055L89 1063"/>
<rect class="r s15" x="73.5" y="1053.5" width="17" height="11"/>
<path class="y" d="M73 1053H91V1065"/>
<text class="td" x="82" y="1037">900</text><text class="td" x="72" y="1045">50</text><text class="td" x="78" y="1045">400</text><text class="td" x="87" y="1045">400</text><text class="td" x="94" y="1045">50</text>
<text class="td" transform="rotate(-90 55 1059)" x="55" y="1059">600</text><text class="td" x="62" y="1051">50</text><text class="td" transform="rotate(-90 63 1059)" x="63" y="1059">500</text><text class="td" x="62" y="1068">50</text>
<text class="tl" x="74" y="1080" textLength="7" lengthAdjust="spacingAndGlyphs">C3</text><text class="ts" x="84.5" y="1080.5" textLength="11" lengthAdjust="spacingAndGlyphs">1:50</text><path class="g s2" d="M70 1081H78"/>

<!-- C4 -->
<path class="g" d="M130 985.5H168M130 993.5H168M130 1001.5H168M131.5 983V1007M165.5 983V1007M148.5 991V1007M140.5 999V1007M157.5 999V1007M113.5 1007V1066M121.5 1007V1066M111 1008.5H132M120 1022.5H132M111 1064.5H132M140 1042H157"/>
<rect class="y s2" x="132" y="1009" width="33.5" height="55"/>
<path class="c s2" d="M132 1023H165"/>
<path class="c" d="M148.5 1009V1064M140.5 1023V1064M157.5 1023V1064M133 1030H140M133 1039H140M133 1047H140M133 1055H140M158 1030H165M158 1039H165M158 1047H165M158 1055H165"/>
<text class="td" x="148.5" y="985">1800</text><text class="td" x="140" y="993">900</text><text class="td" x="157" y="993">900</text>
<text class="td" x="134" y="1000">400</text><text class="td" x="144" y="1000">500</text><text class="td" x="153" y="1000">500</text><text class="td" x="162" y="1000">400</text><text class="td" x="131" y="1006">50</text><text class="td" x="164" y="1006">50</text>
<text class="td" transform="rotate(-90 112 1036)" x="112" y="1036">2950</text><text class="td" transform="rotate(-90 118 1016)" x="118" y="1016">650</text><text class="td" transform="rotate(-90 118 1045)" x="118" y="1045">2250</text>
<text class="tl" x="147" y="1080" textLength="7" lengthAdjust="spacingAndGlyphs">C4</text><text class="ts" x="157.5" y="1080.5" textLength="11" lengthAdjust="spacingAndGlyphs">1:50</text><path class="g s2" d="M142 1081H150"/>

<!-- C5 -->
<path class="g" d="M210 993.5H225M210 1001.5H225M211.5 991V1007M222.5 991V1007M217 999V1007M192.5 1007V1066M200.5 1007V1066M190 1008.5H212M198 1019.5H212M198 1047.5H212M190 1064.5H212M217 1049L221 1056L217 1063L213 1056Z"/>
<rect class="w s15" x="211.5" y="1009" width="11" height="55.5"/>
<path class="c s15" d="M212 1047.5H222"/>
<path class="c" d="M217 1009V1047M212 1019.5H222M212 1028.5H222M212 1037H222M212 1063H222"/>
<text class="td" x="217" y="992">550</text><text class="td" x="209" y="1004">50</text><text class="td" x="217" y="1000">450</text><text class="td" x="225" y="1004">50</text>
<text class="td" transform="rotate(-90 190 1036)" x="190" y="1036">2950</text><text class="td" transform="rotate(-90 197 1014)" x="197" y="1014">500</text><text class="td" transform="rotate(-90 197 1036)" x="197" y="1036">1250</text><text class="td" transform="rotate(-90 197 1056)" x="197" y="1056">600</text>
<text class="tl" x="209" y="1080" textLength="7" lengthAdjust="spacingAndGlyphs">C5</text><text class="ts" x="220" y="1080.5" textLength="11" lengthAdjust="spacingAndGlyphs">1:50</text><path class="g s2" d="M205 1081H213"/>

<!-- C6 -->
<path class="g" d="M263 1002.5H279M263 1010.5H279M264.5 1000V1017M276.5 1000V1017M270 1008V1017M246.5 1017V1066M254.5 1017V1066M244 1018.5H265M252 1047.5H265M244 1064.5H265M270 1049L275 1056L270 1063L265 1056Z"/>
<path class="y s15" d="M264.5 1018.5V1064.5H276.5V1018.5"/><path class="w" d="M265 1018.5H276"/>
<path class="c" d="M270 1019V1047M265 1026H276M265 1034H276M265 1041H276"/><path class="c s15" d="M265 1047.5H276"/>
<text class="td" x="270" y="1000">600</text><text class="td" x="263" y="1007">50</text><text class="td" x="276" y="1007">50</text><text class="td" x="270" y="1008">500</text><text class="td" x="263" y="1015">50</text>
<text class="td" transform="rotate(-90 243 1041)" x="243" y="1041">2450</text><text class="td" transform="rotate(-90 251 1030)" x="251" y="1030">1250</text><text class="td" transform="rotate(-90 251 1056)" x="251" y="1056">600</text>
<text class="tl" x="263" y="1080" textLength="7" lengthAdjust="spacingAndGlyphs">C6</text><text class="ts" x="273.5" y="1080.5" textLength="11" lengthAdjust="spacingAndGlyphs">1:50</text><path class="g s2" d="M259 1081H267"/>

<!-- C7 -->
<path class="g" d="M330 980.5H351M330 988.5H351M331.5 978V998M348.5 978V998M313.5 999V1065M320.5 999V1065M310 1000.5H332M320 1008.5H332M320 1014.5H332M320 1020.5H332M320 1027.5H332M320 1045.5H332M320 1051.5H332M310 1064.5H332M340.5 1027L347.5 1036L340.5 1045.5L333.5 1036Z"/>
<path class="r s15" d="M332 1008.5H348M332 1014.5H348M332 1020.5H348M332 1027.5H348M332 1045.5H348M332 1051.5H348M332 1058H348M332 1064.5H348M340.5 1001V1064M332 1009V1064"/>
<path class="y s15" d="M348.5 1008.5V1064.5"/>
<path class="y s15" d="M331.5 1009A8.5 9 0 0 1 348.5 1009"/>
<text class="td" x="340" y="980">600</text><text class="td" x="332" y="987">50</text><text class="td" x="340" y="987">500</text><text class="td" x="348" y="987">50</text><text class="td" transform="rotate(-75 341 1003)" x="341" y="1003">R300</text>
<text class="td" transform="rotate(-90 310 1032)" x="310" y="1032">3400</text><text class="td" x="318" y="1001">50</text><text class="td" x="318" y="1011">500</text><text class="td" x="318" y="1023">600</text><text class="td" x="318" y="1037">1200</text><text class="td" x="318" y="1051">600</text><text class="td" x="325" y="1057">500</text><text class="td" x="318" y="1063">500</text>
<text class="tl" x="333" y="1080" textLength="7" lengthAdjust="spacingAndGlyphs">C7</text><text class="ts" x="343.5" y="1080.5" textLength="11" lengthAdjust="spacingAndGlyphs">1:50</text><path class="g s2" d="M329 1081H337"/>

<!-- BOTTOM-RIGHT SHEET -->
<rect class="w" x="634.5" y="697.5" width="564" height="396.5"/>
<rect class="w s2" x="658" y="707" width="531" height="378"/>
<rect class="r s15" x="1007.5" y="1025.5" width="119" height="57.5"/>
<text class="tr" x="1114" y="1079" textLength="16" lengthAdjust="spacingAndGlyphs">建筑结构</text>

<path class="w s2" d="M1149 717H1166M1130 725H1138M1160 725H1167M1130 735H1140M1160 735H1167M1130 744H1142M1132 759H1149"/>
<text class="tw" x="1140" y="834" textLength="18" lengthAdjust="spacingAndGlyphs">APPROVED BY</text>
<text class="tw" x="1148" y="834" textLength="3" lengthAdjust="spacingAndGlyphs">IN</text>
<text class="tw" x="1140" y="844" textLength="18" lengthAdjust="spacingAndGlyphs">REVIEWED BY</text>
<text class="tw" x="1136" y="853" textLength="10" lengthAdjust="spacingAndGlyphs">CHECK</text>
<text class="tw" x="1139" y="863" textLength="16" lengthAdjust="spacingAndGlyphs">DRAFT NAME</text>
<text class="tw" x="1140" y="872" textLength="17" lengthAdjust="spacingAndGlyphs">DESIGNED BY</text>
<text class="tw" x="1139" y="882" textLength="16" lengthAdjust="spacingAndGlyphs">DRAWN BY</text>
<text class="tw" x="1140" y="891" textLength="17" lengthAdjust="spacingAndGlyphs">CHECKED BY</text>
<text class="tw" x="1141" y="901" textLength="21" lengthAdjust="spacingAndGlyphs">SCALE 1/100</text>
<text class="tw" x="1138" y="910" textLength="14" lengthAdjust="spacingAndGlyphs">DATE</text>
<text class="tw" x="1137" y="923" textLength="9" lengthAdjust="spacingAndGlyphs">NOTE</text>
<text class="tw" x="1137" y="942" textLength="10" lengthAdjust="spacingAndGlyphs">CLIENT</text>
<text class="tw" x="1135" y="961" textLength="7" lengthAdjust="spacingAndGlyphs">TITLE</text>
<text class="tw" x="1139" y="980" textLength="16" lengthAdjust="spacingAndGlyphs">CONTRACT No</text>
<text class="ta" style="fill:#0ff;stroke:#0ff" x="1164" y="978" textLength="21" lengthAdjust="spacingAndGlyphs">2001C319</text>
<text class="tw" x="1138" y="989" textLength="14" lengthAdjust="spacingAndGlyphs">SHEET No</text>
<text class="tw" x="1163" y="989" textLength="6" lengthAdjust="spacingAndGlyphs">DATE</text>
<text class="ta" style="fill:#0ff;stroke:#0ff" x="1177" y="987" textLength="15" lengthAdjust="spacingAndGlyphs">2970320</text>
<text class="tb" style="fill:#0ff;stroke:#0ff" x="1179" y="996" textLength="5" lengthAdjust="spacingAndGlyphs">17</text>
<text class="tw" x="1139" y="999" textLength="17" lengthAdjust="spacingAndGlyphs">DRAWING TYPE</text>
<text class="tw" x="1166" y="999" textLength="15" lengthAdjust="spacingAndGlyphs">DRAWING</text>
<text class="tw" x="1158" y="1053" textLength="55" lengthAdjust="spacingAndGlyphs">CHONGQING GENERAL INSTITUTE</text>
<text class="tw" x="1159" y="1059" textLength="49" lengthAdjust="spacingAndGlyphs">OF ARCHITECTURAL DESIGN</text>
<text class="tw" x="1159" y="1065" textLength="24" lengthAdjust="spacingAndGlyphs">AND RESEARCH</text>
<text class="tw" x="1175" y="1079" textLength="14" lengthAdjust="spacingAndGlyphs">2001-J</text>
<text class="tw" style="font-size:3.5px" x="1159" y="1082" textLength="58" lengthAdjust="spacingAndGlyphs">NATIONAL ARCHITECTURAL DESIGN LICENCE No</text>

<!-- C8 -->
<path class="g" d="M712 721.5H741M712 728.5H741M726.5 726V739M694.5 740V808M702.5 740V808M692 741.5H712M702 754.5H712M702 767.5H712M702 785.5H712M702 793.5H712M702 799.5H712M692 806.5H712M715 776L726 767.5L737 776L726 785ZM726 767.5V785"/>
<path class="g s2" d="M714 729V739M739 729V739"/>
<path class="y s2" d="M714 806V755A12.5 13 0 0 1 739 755V806H714"/>
<path class="r" d="M714 754.5H739M714 767.5H739M714 776.5H739M714 793.5H739M714 799.5H739M726.5 755V806"/>
<path class="r s2" d="M714 785.5H739"/>
<text class="td" x="726" y="721">1500</text><text class="td" x="718" y="728">700</text><text class="td" x="734" y="728">700</text>
<text class="td" transform="rotate(-65 727 747)" x="727" y="747">R750</text>
<text class="td" transform="rotate(-90 692 774)" x="692" y="774">3100</text><text class="td" x="700" y="745">300</text><text class="td" x="700" y="757">300</text><text class="td" x="705" y="760">400</text><text class="td" x="700" y="776">500</text><text class="td" x="700" y="790">450</text><text class="td" x="705" y="797">300</text><text class="td" x="700" y="805">500</text>
<text class="tl" x="724" y="821.5" textLength="7" lengthAdjust="spacingAndGlyphs">C8</text><text class="ts" x="734.5" y="822" textLength="11" lengthAdjust="spacingAndGlyphs">1:50</text><path class="g s2" d="M719 822H728"/>

<!-- C9 -->
<path class="g" d="M781 728.5H813M781 736.5H813M796.5 734V745M773 748V808M765.5 748V808M763 747.5H781M773 763.5H782M773 771.5H782M773 788.5H782M763 806.5H781M782 758.5H797"/>
<path class="g s2" d="M783 737V745M810 737V745"/>
<path class="r s2" d="M783 806V764A13.5 15 0 0 1 810 764V806H783"/>
<path class="r" d="M792 806V764A5 6 0 0 1 802 764V806M783 763.5H792M802 763.5H810M783 771H792M802 771H810M783 788H792M802 788H810M783 796H792M802 796H810"/>
<path class="r s2" d="M791 762A6 6 0 0 1 802 762"/>
<path class="g" d="M783 772L791 786M791 772L783 786M802 772L810 786M810 772L802 786"/>
<text class="td" x="797" y="729">900</text><text class="td" x="784" y="737">200</text><text class="td" x="796" y="737">500</text><text class="td" x="809" y="737">200</text>
<text class="td" x="792" y="760">R250</text>
<text class="td" transform="rotate(-90 763 777)" x="763" y="777">3100</text><text class="td" x="770" y="747">300</text><text class="td" x="770" y="765">300</text><text class="td" x="770" y="780">600</text><text class="td" x="770" y="794">500</text><text class="td" x="777" y="802">500</text>
<text class="tl" x="788" y="821.5" textLength="7" lengthAdjust="spacingAndGlyphs">C9</text><text class="ts" x="798.5" y="822" textLength="11" lengthAdjust="spacingAndGlyphs">1:50</text><path class="g s2" d="M784 822H793"/>

<!-- C10 -->
<path class="g" d="M848 727.5H872M848 735H872M860 733V745M831.5 748V808M838.5 748V808M829 746.5H850M838 760.5H850M838 777.5H850M838 795.5H850M829 806.5H850"/>
<path class="g s2" d="M851 736V745M869 736V745"/>
<path class="r s2" d="M850 806V761A10.5 13 0 0 1 871 761V806H850"/>
<path class="r" d="M855.5 806V760A5 7 0 0 1 866 760V806M860.5 748V806"/>
<path class="r s2" d="M850 777H871"/>
<path class="g" d="M854 785Q851 792 854 799M867 785Q870 792 867 799"/>
<text class="td" x="860" y="727">1100</text><text class="td" x="860" y="735">300 500 300</text>
<text class="td" transform="rotate(50 857 752)" x="857" y="752">R550</text>
<text class="td" transform="rotate(-90 828 777)" x="828" y="777">3100</text><text class="td" x="836" y="746">300</text><text class="td" x="836" y="762">500</text><text class="td" x="836" y="785">600</text><text class="td" x="842" y="768">300</text><text class="td" x="842" y="802">500</text>
<text class="tl" x="853.5" y="821.5" textLength="10" lengthAdjust="spacingAndGlyphs">C10</text><text class="ts" x="865.5" y="822" textLength="11" lengthAdjust="spacingAndGlyphs">1:50</text><path class="g s2" d="M849 822H859"/>

<!-- C11 -->
<path class="g" d="M909 721.5H939M909 728.5H939M924.5 726V739M892.5 740V808M900.5 740V808M890 741.5H911M900 754.5H911M900 767.5H911M900 785.5H911M900 793.5H911M900 799.5H911M890 806.5H911M913 776L924 767.5L935 776L924 785ZM924 767.5V785"/>
<path class="g s2" d="M911 729V739M936 729V739"/>
<path class="y s2" d="M911.5 806V755A12.5 13 0 0 1 936.5 755V806H911.5"/>
<path class="r" d="M912 754.5H936M912 767.5H936M912 776.5H936M912 793.5H936M912 799.5H936M924 755V806"/>
<path class="r s2" d="M912 785.5H936"/>
<text class="td" x="924" y="721">1500</text><text class="td" x="916" y="728">700</text><text class="td" x="932" y="728">700</text>
<text class="td" transform="rotate(-65 926 747)" x="926" y="747">R750</text>
<text class="td" transform="rotate(-90 890 774)" x="890" y="774">3400</text><text class="td" x="898" y="745">300</text><text class="td" x="898" y="757">300</text><text class="td" x="903" y="760">400</text><text class="td" x="898" y="776">500</text><text class="td" x="898" y="790">450</text><text class="td" x="903" y="797">300</text><text class="td" x="898" y="805">500</text>
<text class="tl" x="922" y="821.5" textLength="10" lengthAdjust="spacingAndGlyphs">C11</text><text class="ts" x="933.5" y="822" textLength="11" lengthAdjust="spacingAndGlyphs">1:50</text><path class="g s2" d="M917 822H927"/>

<!-- C12 -->
<path class="g" d="M962 783.5H973M962 791.5H973M963.5 781V798M970.5 781V798M967 789V798M955.5 798V808M948 798.5H963M948 806.5H963M965 805L967 800L969 805"/>
<path class="y s15" d="M963.5 798.5H970.5V806.5H963.5"/>
<text class="td" x="967" y="782">400</text><text class="td" x="960" y="790">50</text><text class="td" x="967" y="789">300</text><text class="td" x="973" y="790">50</text>
<text class="td" transform="rotate(-90 948 802)" x="948" y="802">400</text><text class="td" x="953" y="797">50</text><text class="td" x="958" y="803">300</text><text class="td" x="953" y="810">50</text>
<text class="tl" x="959" y="821.5" textLength="10" lengthAdjust="spacingAndGlyphs">C12</text><text class="ts" x="970.5" y="822" textLength="11" lengthAdjust="spacingAndGlyphs">1:50</text><path class="g s2" d="M954 822H964"/>

<!-- C13 -->
<path class="g" d="M1011 751.5H1054.5M1011 759.5H1054.5M1012.5 749V765M1052.5 749V765M1032.5 757V765M1021.5 757V765M1043.5 757V765M990.5 765V808M998.5 765V808M988 766.5H1012M998 773.5H1012M998 778.5H1012M998 785.5H1012M998 795.5H1012M988 806.5H1012M1021 788.5H1031M1034 788.5H1044"/>
<rect class="y s2" x="1013" y="766.5" width="39.5" height="39.5"/>
<rect class="c s15" x="1021.5" y="773.5" width="22" height="28"/>
<path class="c" d="M1032.5 774V801M1013 773.5H1052M1017.5 774V805M1047.5 774V805M1013 778.5H1021M1013 785.5H1021M1013 792.5H1021M1013 797.5H1021M1044 778.5H1052M1044 785.5H1052M1044 792.5H1052M1044 797.5H1052"/>
<text class="td" x="1032.5" y="751">1200</text><text class="td" x="1016" y="759">300</text><text class="td" x="1026" y="759">300</text><text class="td" x="1038" y="759">300</text><text class="td" x="1049" y="759">300</text><text class="td" x="1009" y="759">50</text>
<text class="td" transform="rotate(-90 988 786)" x="988" y="786">2100</text><text class="td" x="996" y="770">300</text><text class="td" x="996" y="786">600</text><text class="td" x="996" y="800">300</text><text class="td" x="1002" y="776">300</text><text class="td" x="1002" y="792">300</text>
<text class="tl" x="1031" y="821.5" textLength="10" lengthAdjust="spacingAndGlyphs">C13</text><text class="ts" x="1042.5" y="822" textLength="11" lengthAdjust="spacingAndGlyphs">1:50</text><path class="g s2" d="M1026 822H1036"/>

<!-- C14 -->
<path class="g" d="M1095 741.5H1107M1095 750H1107M1096.5 740V755M1105.5 740V755M1077.5 757V808M1085.5 757V808M1075 758H1096M1085 783.5H1096M1085 798.5H1096M1075 806.5H1096"/>
<path class="g s2" d="M1085 758H1095M1085 806H1095"/>
<rect class="w" x="1096.5" y="757.5" width="9.5" height="49"/>
<path class="w" d="M1101 758V806M1097 763.5H1105M1097 770.5H1105M1097 777.5H1105M1097 783.5H1105M1097 790.5H1105M1097 797.5H1105"/>
<path class="c" d="M1098 785L1104 791L1098 800"/>
<text class="td" x="1101" y="741">500</text><text class="td" x="1095" y="749">50</text><text class="td" x="1102" y="749">400</text><text class="td" x="1099" y="754">300</text>
<text class="td" transform="rotate(-90 1075 782)" x="1075" y="782">2650</text><text class="td" x="1082" y="765">500</text><text class="td" x="1082" y="777">1250</text><text class="td" x="1082" y="793">500</text><text class="td" x="1082" y="804">500</text>
<text class="tl" x="1092" y="821.5" textLength="10" lengthAdjust="spacingAndGlyphs">C14</text><text class="ts" x="1104" y="822" textLength="11" lengthAdjust="spacingAndGlyphs">1:50</text><path class="g s2" d="M1087 822H1098"/>

<!-- C15 -->
<path class="g" d="M712 867.5H733M712 875.5H733M713.5 865V881M730.5 865V881M722 873V881M697.5 882V920M705.5 882V920M695 883.5H714M705 906.5H714M695 918.5H714M715 905.5H730"/>
<rect class="y s15" x="714" y="883.5" width="16.5" height="34.5"/>
<path class="c" d="M714.5 884H730M722 884V917M714.5 907H730"/>
<text class="td" x="722" y="865">800</text><text class="td" x="714" y="874">300</text><text class="td" x="722" y="874">200</text><text class="td" x="730" y="874">300</text>
<text class="td" transform="rotate(-90 695 901)" x="695" y="901">1800</text><text class="td" x="702" y="882">50</text><text class="td" x="702" y="893">600</text><text class="td" x="702" y="913">600</text>
<text class="tl" x="714.5" y="934" textLength="10" lengthAdjust="spacingAndGlyphs">C15</text><text class="ts" x="727" y="934.5" textLength="11" lengthAdjust="spacingAndGlyphs">1:50</text><path class="g s2" d="M709 935H720"/>

<!-- C16 -->
<path class="g" d="M789 856.5H805M789 861.5H805M790.5 854V870M802.5 854V870M797 859V870M772.5 871V920M780 871V920M770 872.5H791M780 882.5H791M780 912.5H791M770 918.5H791"/>
<rect class="w" x="791" y="872.5" width="12" height="45.5"/>
<path class="c" d="M797 873V917M792 882.5H802M792 892.5H802M792 901.5H802M792 912.5H802M792 895L802 904L792 913"/>
<text class="td" x="797" y="855">500</text><text class="td" x="797" y="861">50 400 50</text>
<text class="td" transform="rotate(-90 770 898)" x="770" y="898">2050</text><text class="td" x="777" y="877">500</text><text class="td" x="777" y="890">500</text><text class="td" transform="rotate(-90 777 900)" x="777" y="900">1250</text><text class="td" x="777" y="915">400</text>
<text class="tl" x="790.5" y="934" textLength="10" lengthAdjust="spacingAndGlyphs">C16</text><text class="ts" x="803" y="934.5" textLength="11" lengthAdjust="spacingAndGlyphs">1:50</text><path class="g s2" d="M785 935H796"/>

<!-- C17 -->
<path class="g" d="M849 867.5H869M849 875.5H869M850.5 865V881M867.5 865V881M859 873V881M831.5 882V920M839.5 882V920M829 883.5H851M829 918.5H851"/>
<rect class="w" x="850.5" y="883.5" width="17" height="35"/>
<path class="c" d="M859 884V918M851 892.5H867M851 905.5H867"/>
<text class="td" x="859" y="866">800</text><text class="td" x="851" y="874">300</text><text class="td" x="859" y="874">200</text><text class="td" x="867" y="874">300</text>
<text class="td" transform="rotate(-90 829 901)" x="829" y="901">1850</text><text class="td" x="836" y="884">50</text><text class="td" x="836" y="897">500</text><text class="td" transform="rotate(-90 836 908)" x="836" y="908">1250</text>
<text class="tl" x="850.5" y="934" textLength="10" lengthAdjust="spacingAndGlyphs">C17</text><text class="ts" x="862.5" y="934.5" textLength="11" lengthAdjust="spacingAndGlyphs">1:50</text><path class="g s2" d="M845 935H855"/>

<!-- C18 -->
<path class="g" d="M907 860H938M907 867.5H938M907 875.5H938M908 858V881M936.5 858V881M922 865V881M889.5 882V920M897.5 882V920M887 883.5H908M897 906.5H908M887 918.5H908M915 906H930"/>
<rect class="y s15" x="908" y="883.5" width="28.5" height="34.5"/>
<path class="c s2" d="M908.5 884H936"/>
<path class="c" d="M922 884V918M915 892V917M930 892V917M909 892.5H936M909 899.5H915M909 905.5H915M930 899.5H936M930 905.5H936"/>
<text class="td" x="922" y="860">1500</text><text class="td" x="914" y="867">700</text><text class="td" x="930" y="867">700</text>
<text class="td" x="908" y="874">300</text><text class="td" x="918" y="874">400</text><text class="td" x="928" y="874">400</text><text class="td" x="938" y="878">300</text>
<text class="td" transform="rotate(-90 887 901)" x="887" y="901">1850</text><text class="td" x="894" y="885">50</text><text class="td" x="894" y="895">500</text><text class="td" transform="rotate(-90 894 908)" x="894" y="908">1250</text>
<text class="tl" x="915" y="934" textLength="10" lengthAdjust="spacingAndGlyphs">C18</text><text class="ts" x="927.5" y="934.5" textLength="11" lengthAdjust="spacingAndGlyphs">1:50</text><path class="g s2" d="M909 935H920"/>

<!-- C19 -->
<path class="g" d="M974 860.5H1027M974 867.5H1027M974 876.5H1027M976.5 858V881M1025.5 858V881M1001 865V881M985 874V881M1015 874V881M958.5 882V920M966 882V920M956 883.5H977M964 918.5H977M987 906.5H1014"/>
<path class="y s15" d="M976.5 883.5H1025.5V918.5H976.5Z"/>
<path class="c s2" d="M1001 884V918M977 884H1025"/>
<path class="c" d="M985.5 892V917M1015.5 892V917M977 892.5H1025M977 899.5H986M977 909.5H986M1016 899.5H1025M1016 909.5H1025M980 892V917M1021 892V917"/>
<text class="td" x="1001" y="860">2800</text><text class="td" x="988" y="867">1400</text><text class="td" x="1013" y="867">1400</text>
<text class="td" x="975" y="875">50</text><text class="td" x="984" y="875">500</text><text class="td" x="994" y="875">900</text><text class="td" x="1008" y="875">900</text><text class="td" x="1018" y="875">500</text><text class="td" x="1027" y="875">50</text>
<text class="td" transform="rotate(-90 955 901)" x="955" y="901">2950</text><text class="td" transform="rotate(-90 963 901)" x="963" y="901">1250</text><text class="td" x="963" y="888">500</text>
<text class="tl" x="983" y="934" textLength="10" lengthAdjust="spacingAndGlyphs">C19</text><text class="ts" x="995.5" y="934.5" textLength="11" lengthAdjust="spacingAndGlyphs">1:50</text><path class="g s2" d="M978 935H988"/>

<!-- C20 -->
<circle class="w s15" cx="1072.5" cy="904" r="9"/>
<path class="w" d="M1064 899H1081M1064 909H1081M1068 896V912M1077 896V912M1069 915H1077"/>
<path class="g" d="M1063 918.5H1084M1064 903V919M1081 903V919M1063 901H1070"/>
<text class="tw" x="1073" y="917">1000</text>
<text class="tl" x="1065.5" y="932" textLength="10" lengthAdjust="spacingAndGlyphs">C20</text><text class="ts" x="1078" y="932.5" textLength="11" lengthAdjust="spacingAndGlyphs">1:50</text><path class="g s2" d="M1060 933H1071"/>

<!-- C21 -->
<path class="g" d="M712 951H756M712 959H756M712 966.5H756M713.5 949V973M753.5 949V973M733.5 957V973M723.5 965V973M744.5 965V973M695.5 973V1032M703.5 973V1032M693 974.5H714M703 988.5H714M693 1030.5H714M725 1008H743"/>
<path class="g s2" d="M704 975H712M714 967V973"/>
<rect class="y s15" x="714" y="975" width="39.5" height="55.5"/>
<path class="c s2" d="M714.5 989H753M733.5 975V1030"/>
<path class="c" d="M723.5 989V1030M744.5 989V1030M718 989V1030M749 989V1030M714 996H723M714 1005H723M714 1013H723M714 1022H723M745 996H753M745 1005H753M745 1013H753M745 1022H753"/>
<text class="td" x="733.5" y="951">2000</text><text class="td" x="724" y="958">1000</text><text class="td" x="743" y="958">1000</text>
<text class="td" x="712" y="965">50</text><text class="td" x="719" y="965">400</text><text class="td" x="728" y="965">600</text><text class="td" x="739" y="965">600</text><text class="td" x="748" y="965">400</text><text class="td" x="756" y="965">50</text>
<text class="td" transform="rotate(-90 693 1003)" x="693" y="1003">2950</text><text class="td" x="701" y="976">50</text><text class="td" x="701" y="983">600</text><text class="td" transform="rotate(-90 701 1011)" x="701" y="1011">2200</text><text class="td" x="701" y="1032">50</text>
<text class="tl" x="729.5" y="1046" textLength="10" lengthAdjust="spacingAndGlyphs">C21</text><text class="ts" x="742" y="1046.5" textLength="11" lengthAdjust="spacingAndGlyphs">1:50</text><path class="g s2" d="M724 1047H735"/>

<!-- C22 -->
<path class="g" d="M814 958.5H890M814 965.5H890M815.5 957V978M888.5 957V978M829.5 964V978M852.5 964V981M877 964V978M795.5 975V1032M803.5 975V1032M793 976.5H815M803 987.5H815M793 1030.5H815M832 1009H853M855 1009H872M829 978L853 1061"/>
<path class="y s2" d="M815.5 985Q852 968.5 888.5 985"/>
<path class="y s2" d="M815 1030.5H889"/>
<path class="y" d="M815.5 985V1031M888.5 985V1031"/>
<path class="w s2" d="M816 989H888"/>
<path class="w" d="M816 986V1030M888 986V1030M828 990V1030M876 990V1030M853 990V1030M816 999H828M816 1007H828M816 1014H828M816 1022H828M876 999H888M876 1007H888M876 1014H888M876 1022H888M822 990V1030M882 990V1030"/>
<text class="td" x="852" y="958">3100</text><text class="td" x="814" y="966">50</text><text class="td" x="822" y="966">500</text><text class="td" x="841" y="966">1000</text><text class="td" x="865" y="966">1000</text><text class="td" x="882" y="966">500</text><text class="td" x="891" y="966">50</text>
<text class="td" transform="rotate(-90 793 1004)" x="793" y="1004">3950</text><text class="td" x="800" y="976">50</text><text class="td" transform="rotate(-90 801 1009)" x="801" y="1009">2600</text><text class="td" x="800" y="1032">50</text><text class="td" transform="rotate(70 843 1019)" x="843" y="1019">R3100</text>
<text class="tl" x="848" y="1046" textLength="10" lengthAdjust="spacingAndGlyphs">C22</text><text class="ts" x="860.5" y="1046.5" textLength="11" lengthAdjust="spacingAndGlyphs">1:50</text><path class="g s2" d="M842 1047H853"/>

<!-- C23 -->
<path class="g" d="M937 976H973M937 983.5H973M937 991.5H973M938.5 974V998M970.5 974V998M954.5 981V998M945.5 989V998M963.5 989V998M920.5 998V1032M928 998V1032M918 999.5H939M928 1007.5H939M918 1030.5H939M946 1017H963"/>
<path class="g s2" d="M928 1030.5H936"/>
<path class="y s15" d="M938.5 999.5H970.5V1030.5H938.5Z"/>
<path class="c s2" d="M939 1008H970"/>
<path class="c" d="M954.5 1000V1030M945.5 1008V1030M963.5 1008V1030M939 1013.5H945M939 1019H945M939 1025H945M964 1013.5H970M964 1019H970M964 1025H970"/>
<text class="td" x="954.5" y="976">1700</text><text class="td" x="946" y="983">700</text><text class="td" x="963" y="983">700</text>
<text class="td" x="936" y="990">50</text><text class="td" x="949" y="990">400</text><text class="td" x="960" y="990">400</text><text class="td" x="973" y="990">50</text>
<text class="td" x="942" y="996">300</text><text class="td" x="967" y="996">300</text>
<text class="td" transform="rotate(-90 917 1015)" x="917" y="1015">1850</text><text class="td" x="925" y="1003">500</text><text class="td" transform="rotate(-90 932 1020)" x="932" y="1020">1250</text>
<text class="tl" x="948" y="1045.5" textLength="10" lengthAdjust="spacingAndGlyphs">C23</text><text class="ts" x="960.5" y="1046" textLength="11" lengthAdjust="spacingAndGlyphs">1:50</text><path class="g s2" d="M942 1046H953"/>
</svg>
</body>
</html>
